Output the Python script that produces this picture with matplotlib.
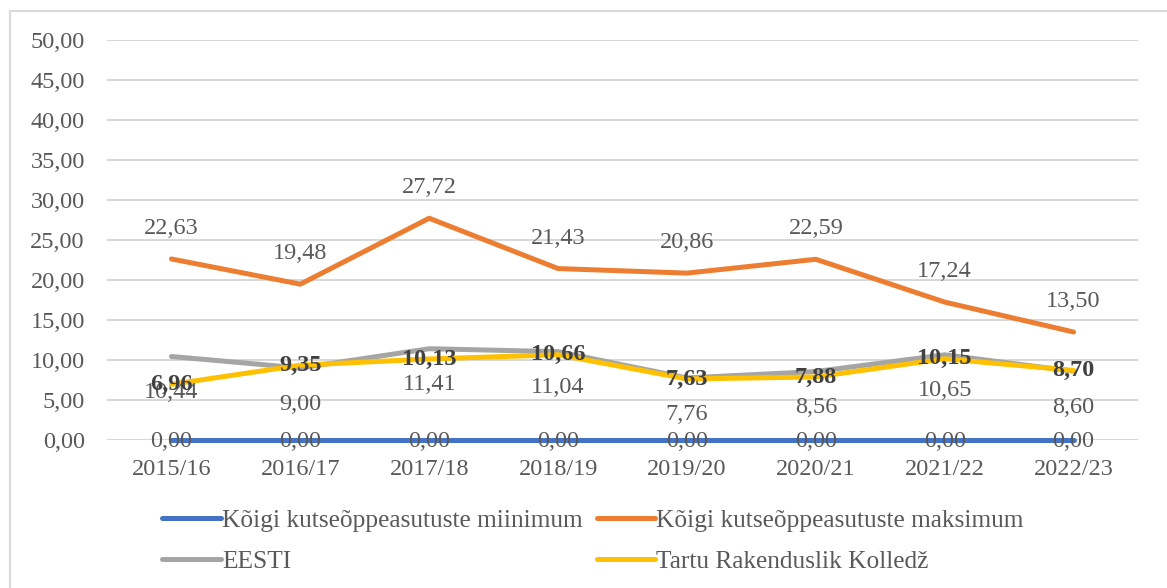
import matplotlib
matplotlib.use("Agg")
import matplotlib.pyplot as plt
from matplotlib.patches import Rectangle

categories = ["2015/16", "2016/17", "2017/18", "2018/19", "2019/20", "2020/21", "2021/22", "2022/23"]
minimum = [0.00, 0.00, 0.00, 0.00, 0.00, 0.00, 0.00, 0.00]
maksimum = [22.63, 19.48, 27.72, 21.43, 20.86, 22.59, 17.24, 13.50]
eesti = [10.44, 9.00, 11.41, 11.04, 7.76, 8.56, 10.65, 8.60]
tartu = [6.96, 9.35, 10.13, 10.66, 7.63, 7.88, 10.15, 8.70]
names = ["Kõigi kutseõppeasutuste miinimum", "Kõigi kutseõppeasutuste maksimum",
         "EESTI", "Tartu Rakenduslik Kolledž"]
yticks = [0, 5, 10, 15, 20, 25, 30, 35, 40, 45, 50]

plt.rcParams['font.family'] = ['Liberation Serif', 'DejaVu Serif']
txt = '#595959'
fs = 17.5

W, H = 1167, 588
fig = plt.figure(figsize=(W / 100, H / 100), dpi=100)
ax = fig.add_axes([107 / W, 1 - 440 / H, (1138 - 107) / W, 400 / H])

x = list(range(len(categories)))
series = [(minimum, '#4472C4'), (maksimum, '#ED7D31'), (eesti, '#A5A5A5'), (tartu, '#FFC000')]
handles = []
for (vals, col), nm in zip(series, names):
    h, = ax.plot(x, vals, color=col, lw=3.6, solid_capstyle='round', label=nm, zorder=3,
                 clip_on=False)
    handles.append(h)

def fmt(v):
    return f"{v:.2f}".replace('.', ',')

for i, v in enumerate(minimum):
    ax.annotate(fmt(v), (i, v), xytext=(0, -1), textcoords='offset points',
                ha='center', va='center', fontsize=fs, color=txt, zorder=5)
for i, v in enumerate(maksimum):
    ax.annotate(fmt(v), (i, v), xytext=(0, 22), textcoords='offset points',
                ha='center', va='center', fontsize=fs, color=txt, zorder=5)
for i, v in enumerate(eesti):
    ax.annotate(fmt(v), (i, v), xytext=(0, -26), textcoords='offset points',
                ha='center', va='center', fontsize=fs, color=txt, zorder=5)
for i, v in enumerate(tartu):
    ax.annotate(fmt(v), (i, v), xytext=(0, 0), textcoords='offset points',
                ha='center', va='center', fontsize=fs, color='#404040',
                fontweight='bold', zorder=5)

ax.set_xlim(-0.5, len(categories) - 0.5)
ax.set_ylim(0, 50)
ax.set_yticks(yticks)
ax.set_yticklabels([fmt(t) for t in yticks])
ax.set_xticks(x)
ax.set_xticklabels(categories)
ax.tick_params(axis='both', length=0, labelsize=fs, labelcolor=txt)
ax.tick_params(axis='y', pad=16)
ax.tick_params(axis='x', pad=14)
ax.grid(axis='y', color='#D9D9D9', lw=1.5)
ax.set_axisbelow(True)
for s in ax.spines.values():
    s.set_visible(False)

order = [0, 2, 1, 3]
leg = fig.legend([handles[k] for k in order], [names[k] for k in order],
                 loc='center', bbox_to_anchor=(593 / W, 1 - 541 / H), ncol=2, frameon=False,
                 fontsize=18.3, labelcolor=txt, handlelength=2.3, handletextpad=0.05,
                 columnspacing=0.55, labelspacing=0.7)

fig.patches.append(Rectangle((10 / W, -0.1), 1.2, 1 - 11 / H + 0.1, transform=fig.transFigure,
                             fill=False, edgecolor='#D9D9D9', lw=1.5))

fig.savefig('out.png', dpi=100)
